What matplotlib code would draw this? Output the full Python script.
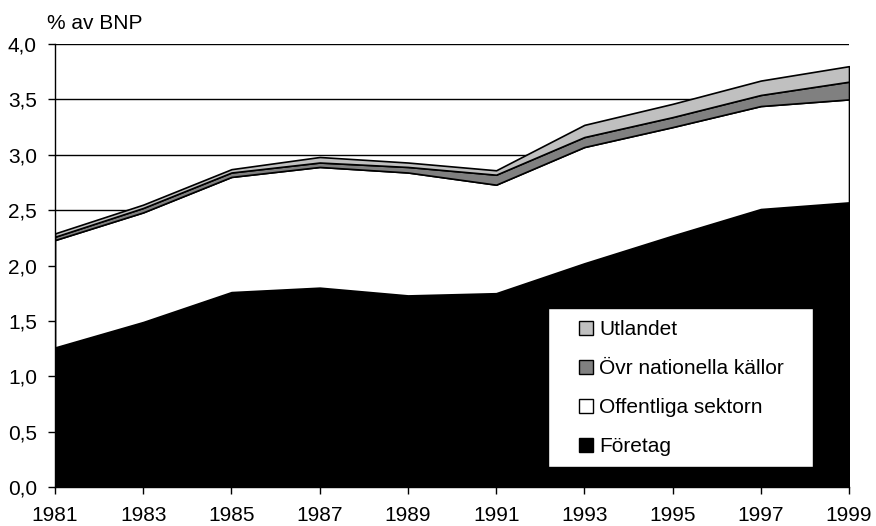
import numpy as np
import matplotlib
matplotlib.use('Agg')
import matplotlib.pyplot as plt
from matplotlib.patches import Patch, Rectangle

plt.rcParams['font.family'] = ['Liberation Sans', 'DejaVu Sans']

years = [1981, 1983, 1985, 1987, 1989, 1991, 1993, 1995, 1997, 1999]
foretag = [1.26, 1.49, 1.76, 1.80, 1.73, 1.75, 2.02, 2.27, 2.51, 2.57]
offentliga = [0.97, 0.99, 1.04, 1.09, 1.11, 0.98, 1.05, 0.98, 0.93, 0.93]
ovr_nationella = [0.03, 0.04, 0.04, 0.04, 0.05, 0.09, 0.09, 0.09, 0.10, 0.16]
utlandet = [0.03, 0.03, 0.03, 0.05, 0.04, 0.04, 0.11, 0.12, 0.13, 0.14]

labels = ['Företag', 'Offentliga sektorn', 'Övr nationella källor', 'Utlandet']
colors = ['#000000', '#ffffff', '#808080', '#c0c0c0']

fs = 15

fig = plt.figure(figsize=(8.76, 5.26), dpi=100)
ax = fig.add_axes([0.0628, 0.0741, 0.9064, 0.8422])

ax.set_axisbelow(True)
ax.yaxis.grid(True, color='black', linewidth=1)
ax.stackplot(years, foretag, offentliga, ovr_nationella, utlandet,
             colors=colors, edgecolor='black', linewidth=1.2, zorder=2)

ax.set_xlim(1981, 1999)
ax.set_ylim(0, 4.0)
ax.set_xticks(years)
ax.set_xticklabels([str(y) for y in years])
yt = np.arange(0, 4.01, 0.5)
ax.set_yticks(yt)
ax.set_yticklabels([('%.1f' % v).replace('.', ',') for v in yt])
ax.tick_params(labelsize=fs, length=5, width=1, direction='out', colors='black')
ax.tick_params(axis='x', pad=9)
ax.tick_params(axis='y', pad=8)
for s in ['top', 'right']:
    ax.spines[s].set_visible(False)
for s in ['left', 'bottom']:
    ax.spines[s].set_linewidth(1)

fig.text(0.054, 0.956, '% av BNP', fontsize=fs, ha='left', va='center')

# legend box drawn by hand, entries placed inside
box = Rectangle((0.621, 0.045), 0.334, 0.359, transform=ax.transAxes,
                facecolor='white', edgecolor='black', linewidth=1, zorder=4)
ax.add_patch(box)
handles = [Patch(facecolor=c, edgecolor='black', linewidth=1) for c in colors]
leg = ax.legend(handles[::-1], labels[::-1], loc='upper left',
                bbox_to_anchor=(0.660, 0.376), fontsize=fs, frameon=False,
                handlelength=0.68, handleheight=0.68, handletextpad=0.3,
                labelspacing=0.96, borderpad=0, borderaxespad=0)
leg.set_zorder(5)

fig.savefig('out.png', dpi=100)
